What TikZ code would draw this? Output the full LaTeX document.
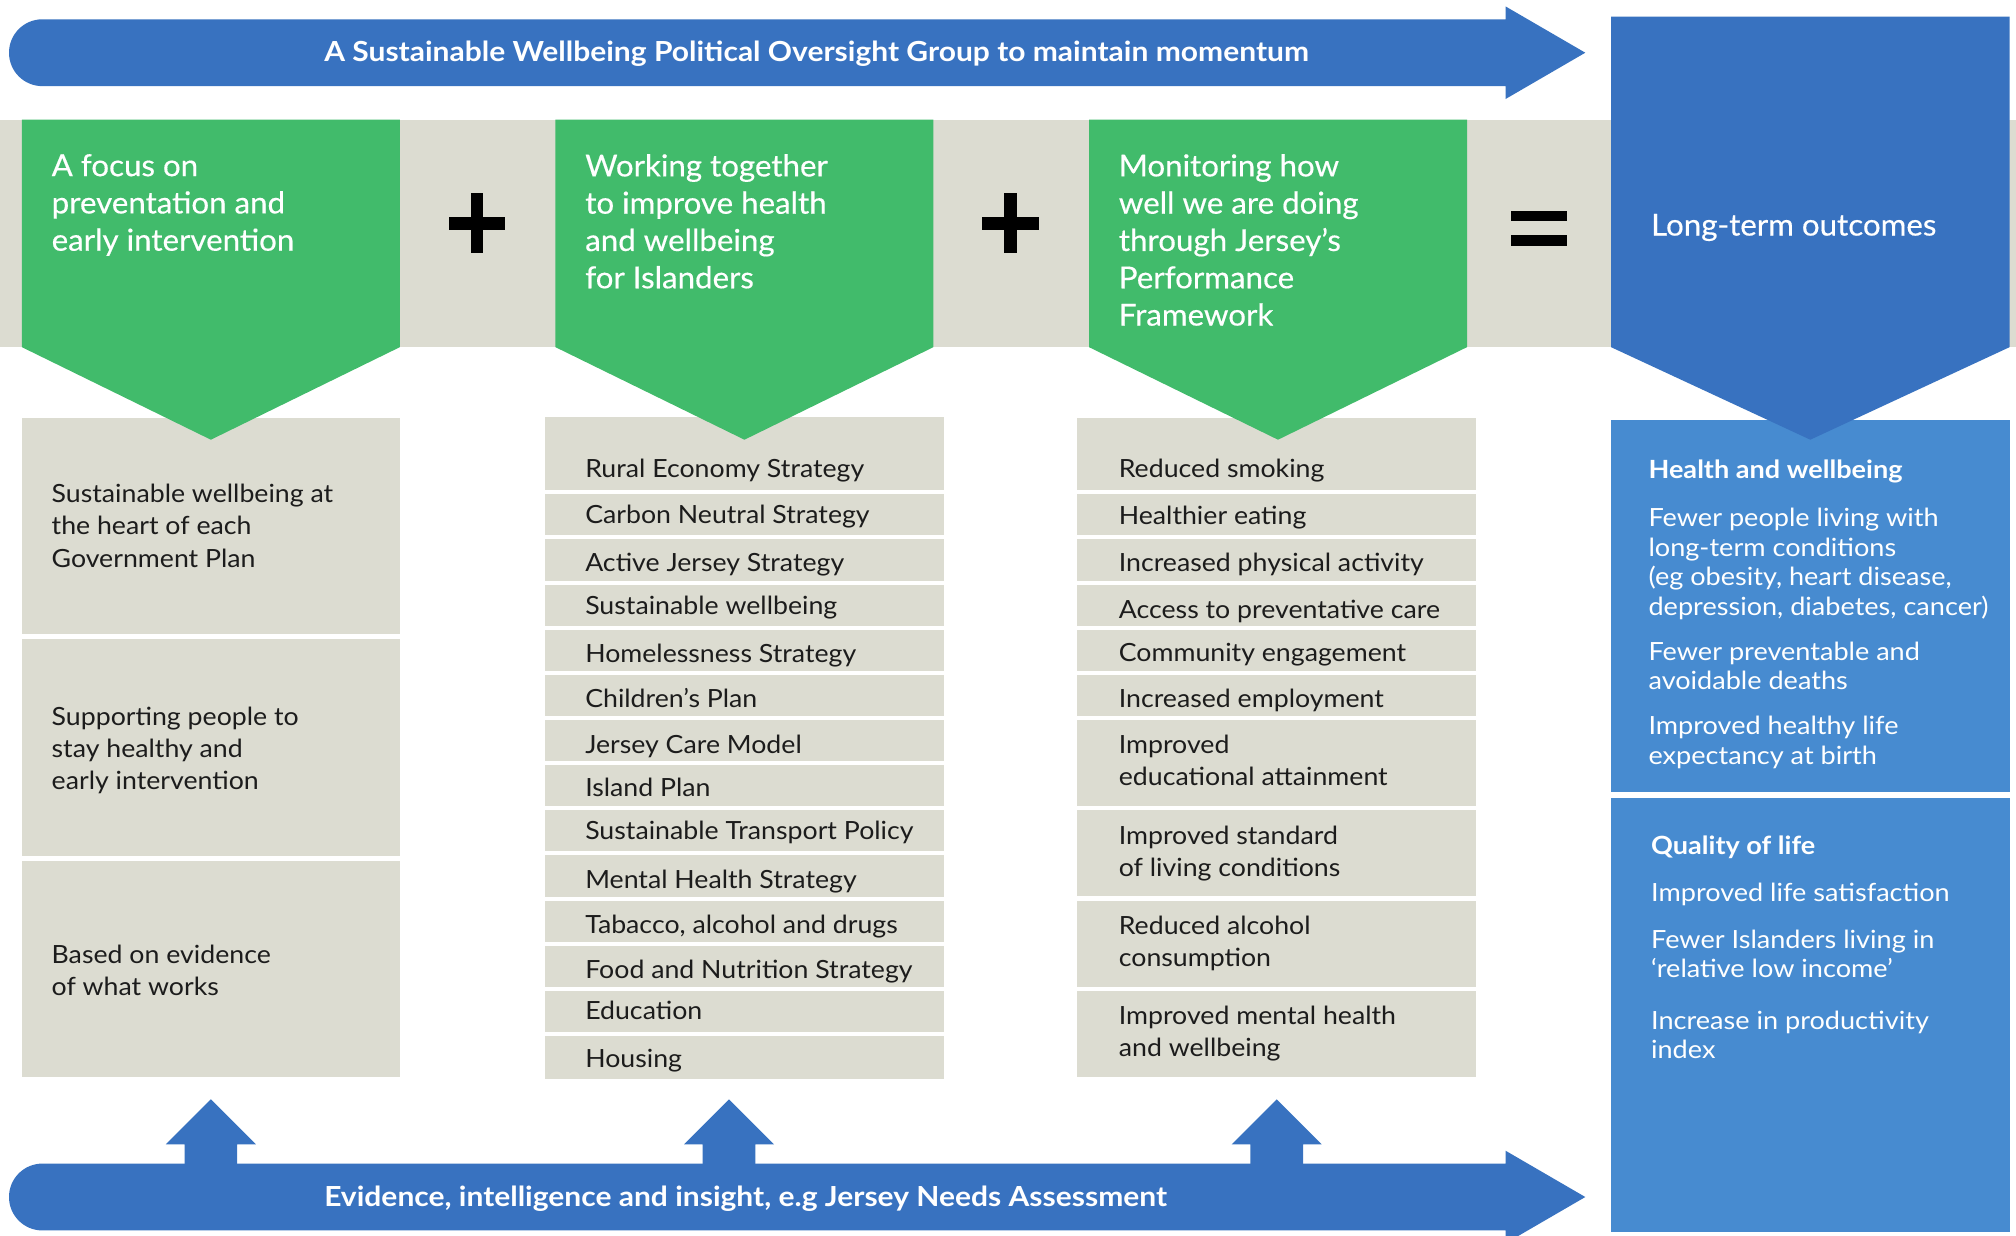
\documentclass[tikz,border=0pt]{standalone}
\usepackage{fontspec}
\setmainfont{Lato}
\newfontfamily\bodyf{Lato}[FakeStretch=1.065]
\newfontfamily\outf{Lato}[FakeStretch=1.08]
\newfontfamily\headf{Lato}[FakeStretch=1.035,FakeBold=0.4]
\newfontfamily\barf{Lato}[FakeStretch=1.085]
\definecolor{dkblue}{HTML}{3872C0}
\definecolor{ltblue}{HTML}{478BD0}
\definecolor{grn}{HTML}{41BB6B}
\definecolor{band}{HTML}{DCDCD1}
\definecolor{ink}{HTML}{1C1C1C}
\begin{document}
\begin{tikzpicture}[x=1pt,y=-1pt,
  body/.style={anchor=north west, inner sep=0pt, align=left, text=ink,
    font=\bodyf\fontsize{19.5}{25}\selectfont, execute at begin node=\strut, execute at end node=\strut},
  head/.style={anchor=north west, inner sep=0pt, align=left, text=white,
    font=\headf\fontsize{23.5}{29}\selectfont, execute at begin node=\strut, execute at end node=\strut},
  outt/.style={anchor=north west, inner sep=0pt, align=left, text=white,
    font=\outf\fontsize{19.5}{23}\selectfont, execute at begin node=\strut, execute at end node=\strut},
  outh/.style={outt, font=\outf\fontsize{19.5}{23}\selectfont\bfseries},
  bartxt/.style={anchor=base west, inner sep=0pt, text=white, font=\barf\fontsize{21.5}{25}\selectfont\bfseries},
  greybox/.style={fill=band},
  lbox/.style={fill=ltblue},
  sym/.style={fill=black},
]
\useasboundingbox (0,0) rectangle (1568,961);
\fill[white] (0,0) rectangle (1568,961);
% grey band
\fill[band] (0,93) rectangle (1568,270);
% top bar
\fill[dkblue] (1171,15) -- (1171,5) -- (1233,41) -- (1171,77) -- (1171,67) -- (33,67)
  .. controls (18.6,67) and (7,55.4) .. (7,41) .. controls (7,26.6) and (18.6,15) .. (33,15) -- cycle;
% bottom bar
\fill[dkblue] (1171,905) -- (1171,895) -- (1233,931) -- (1171,967) -- (1171,957) -- (33,957)
  .. controls (18.6,957) and (7,945.4) .. (7,931) .. controls (7,916.6) and (18.6,905) .. (33,905) -- cycle;
% up arrows
\foreach \c in {164,567,993}{
  \fill[dkblue] (\c-20.5,910) -- (\c-20.5,890) -- (\c-35,890) -- (\c,855) -- (\c+35,890) -- (\c+20.5,890) -- (\c+20.5,910) -- cycle;
}
% column 1 boxes
\fill[greybox] (17,325) rectangle (311,493);
\fill[greybox] (17,497) rectangle (311,666);
\fill[greybox] (17,670) rectangle (311,838);
% column 2 rows
\foreach \a/\b in {324/381,384/416,419/452,455/487,490/522,525/557,560/592,595/627,630/662,665/698,701/733,736/768,771/803,806/839}{
  \fill[greybox] (424,\a) rectangle (734,\b);
}
% column 3 rows
\foreach \a/\b in {325/381,384/416,419/452,455/487,490/522,525/557,560/627,630/697,701/768,771/838}{
  \fill[greybox] (838,\a) rectangle (1148,\b);
}
% right boxes
\fill[lbox] (1253,327) rectangle (1563,616);
\fill[lbox] (1253,621) rectangle (1563,958);
% pentagons
\fill[grn] (17,93) -- (311,93) -- (311,270) -- (164,342) -- (17,270) -- cycle;
\fill[grn] (432,93) -- (726,93) -- (726,270) -- (579,342) -- (432,270) -- cycle;
\fill[grn] (847,93) -- (1141,93) -- (1141,270) -- (994,342) -- (847,270) -- cycle;
\fill[dkblue] (1253,13) -- (1563,13) -- (1563,270) -- (1408,342) -- (1253,270) -- cycle;
% plus and equals
\foreach \c in {371,786}{
  \fill[sym] (\c-5,150) rectangle (\c+5,197);
  \fill[sym] (\c-22,169) rectangle (\c+22,179);
}
\fill[sym] (1175,164) rectangle (1219,172);
\fill[sym] (1175,183) rectangle (1219,191);
% bar texts
\node[bartxt] (toptxt) at (252,48) {A Sustainable Wellbeing Political Oversight Group to maintain momentum};
\node[bartxt] (bottxt) at (252,938) {Evidence, intelligence and insight, e.g Jersey Needs Assessment};
% headers
\node[head] (h1) at (40,119.7) {A focus on\\preventation and\\early intervention};
\node[head] (h2) at (455,119.7) {Working together\\to improve health\\and wellbeing\\for Islanders};
\node[head] (h3) at (870,119.7) {Monitoring how\\well we are doing\\through Jersey’s\\Performance\\Framework};
\node[head] (h4) at (1284,162.7) {Long-term outcomes};
% column 1 texts
\node[body] (a1) at (40,376.5) {Sustainable wellbeing at\\the heart of each\\Government Plan};
\node[body] (a2) at (40,549.5) {Supporting people to\\stay healthy and\\early intervention};
\node[body] (a3) at (40,734.5) {Based on evidence\\of what works};
% column 2 texts
\foreach \y/\t [count=\i] in {363/Rural Economy Strategy,399/Carbon Neutral Strategy,436/Active Jersey Strategy,470/Sustainable wellbeing,507/Homelessness Strategy,542/Children’s Plan,578/Jersey Care Model,611/Island Plan,645/Sustainable Transport Policy,683/Mental Health Strategy,718/{Tabacco, alcohol and drugs},753/Food and Nutrition Strategy,785/Education,822/Housing}{
  \node[body] (b\i) at (455,\y-9.5) {\t};
}
% column 3 texts
\node[body] (c1) at (870,353.5) {Reduced smoking};
\node[body] (c2) at (870,390.5) {Healthier eating};
\node[body] (c3) at (870,426.5) {Increased physical activity};
\node[body] (c4) at (870,463.5) {Access to preventative care};
\node[body] (c5) at (870,496.5) {Community engagement};
\node[body] (c6) at (870,532.5) {Increased employment};
\node[body] (c7) at (870,571.5) {Improved\\educational attainment};
\node[body] (c8) at (870,642.5) {Improved standard\\of living conditions};
\node[body] (c9) at (870,712.5) {Reduced alcohol\\consumption};
\node[body] (c10) at (870,782.5) {Improved mental health\\and wellbeing};
% right texts
\node[outh] (d0) at (1282,356) {Health and wellbeing};
\node[outt] (d1) at (1282,395) {Fewer people living with\\long-term conditions\\(eg obesity, heart disease,\\depression, diabetes, cancer)};
\node[outt] (d2) at (1282,499) {Fewer preventable and\\avoidable deaths};
\node[outt] (d3) at (1282,557) {Improved healthy life\\expectancy at birth};
\node[outh] (e0) at (1284,648) {Quality of life};
\node[outt] (e1) at (1284,685) {Improved life satisfaction};
\node[outt] (e2) at (1284,723) {Fewer Islanders living in\\‘relative low income’};
\node[outt] (e3) at (1284,786) {Increase in productivity\\index};
\end{tikzpicture}
\end{document}
